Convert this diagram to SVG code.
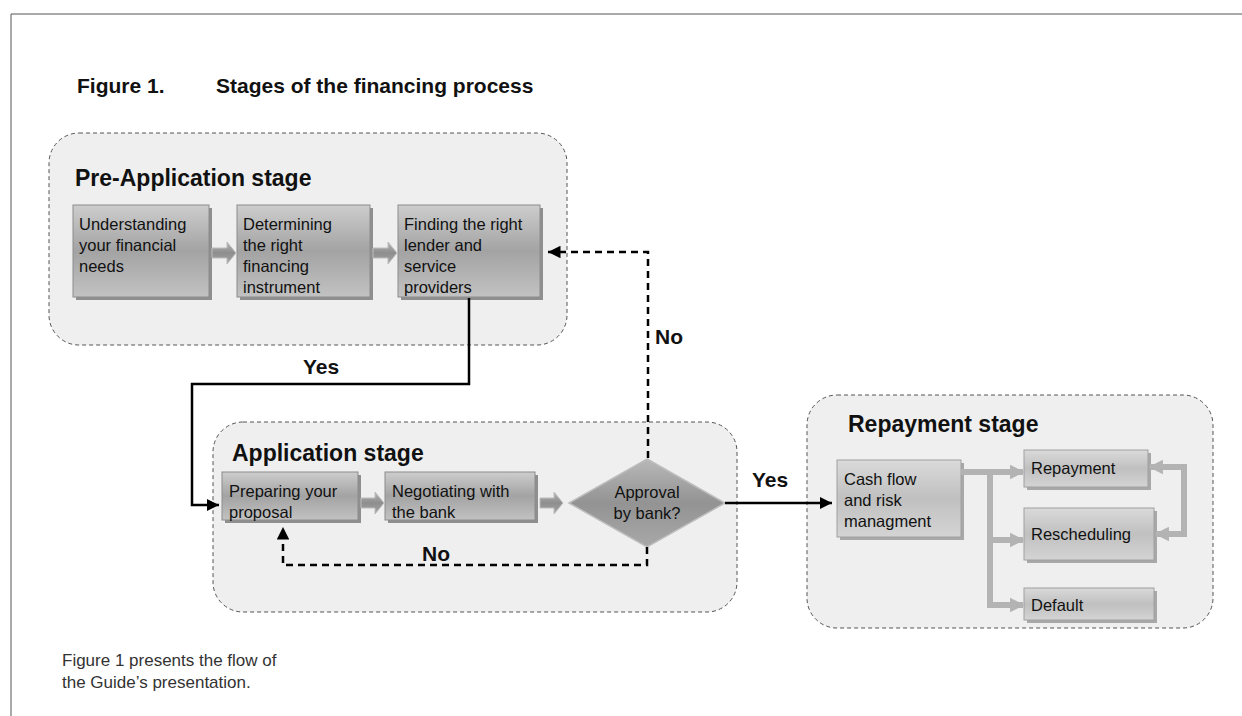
<svg xmlns="http://www.w3.org/2000/svg" width="1242" height="716" viewBox="0 0 1242 716">
<style>
text{font-family:"Liberation Sans",Arial,sans-serif;fill:#111}
.t{font-weight:bold;font-size:21px}
.h{font-weight:bold;font-size:23px}
.b{font-size:16.5px}
.l{font-weight:bold;font-size:21px}
.cap{font-size:17px;fill:#333}
.stage{fill:#efefef;stroke:#555;stroke-width:1;stroke-dasharray:4 3}
.box{fill:url(#gd);stroke:#8c8c8c;stroke-width:1}
.lbox{fill:url(#gl);stroke:#a0a0a0;stroke-width:1}
.sh{fill:#8f8f8f}
.lsh{fill:#a8a8a8}
.k{fill:none;stroke:#000;stroke-width:2.5}
.kd{fill:none;stroke:#000;stroke-width:2.5;stroke-dasharray:7 5}
.g{fill:none;stroke:#b3b3b3;stroke-width:6}
.blk{fill:url(#ga);stroke:#bdbdbd;stroke-width:1}
</style>
<defs>
<linearGradient id="gd" x1="0" y1="0" x2="0" y2="1">
<stop offset="0" stop-color="#cdcdcd"/><stop offset="0.5" stop-color="#a3a3a3"/><stop offset="1" stop-color="#c2c2c2"/>
</linearGradient>
<linearGradient id="gl" x1="0" y1="0" x2="0" y2="1">
<stop offset="0" stop-color="#dadada"/><stop offset="0.5" stop-color="#c0c0c0"/><stop offset="1" stop-color="#d4d4d4"/>
</linearGradient>
<linearGradient id="gdi" x1="0" y1="0" x2="0" y2="1">
<stop offset="0" stop-color="#b8b8b8"/><stop offset="0.5" stop-color="#939393"/><stop offset="1" stop-color="#a8a8a8"/>
</linearGradient>
<linearGradient id="ga" x1="0" y1="0" x2="0" y2="1">
<stop offset="0" stop-color="#b5b5b5"/><stop offset="0.5" stop-color="#8e8e8e"/><stop offset="1" stop-color="#a5a5a5"/>
</linearGradient>
<marker id="ah" viewBox="0 0 10 10" refX="10" refY="5" markerWidth="5" markerHeight="5" orient="auto" markerUnits="strokeWidth">
<path d="M0,0 L10,5 L0,10 z" fill="#000"/>
</marker>
<marker id="gh" viewBox="0 0 10 10" refX="9" refY="5" markerWidth="2.4" markerHeight="2.8" orient="auto-start-reverse" markerUnits="strokeWidth">
<path d="M0,0 L10,5 L0,10 z" fill="#b3b3b3"/>
</marker>
</defs>
<rect width="1242" height="716" fill="#fff"/>
<path d="M11 716 V14 H1242" fill="none" stroke="#555" stroke-width="1"/>
<g id="title">
<text class="t" x="77" y="93">Figure 1.</text>
<text class="t" x="216" y="93">Stages of the financing process</text>
</g>
<g id="pre-application-stage">
<rect class="stage" x="49" y="133" width="518" height="212" rx="30"/>
<text class="h" x="75" y="186">Pre-Application stage</text>
</g>
<g id="application-stage">
<rect class="stage" x="213" y="422" width="524" height="190" rx="30"/>
<text class="h" x="232" y="461">Application stage</text>
</g>
<g id="repayment-stage">
<rect class="stage" x="807" y="395" width="406" height="233" rx="30"/>
<text class="h" x="848" y="432">Repayment stage</text>
</g>
<g id="understanding">
<rect class="sh" x="76" y="208" width="136" height="92"/>
<rect class="box" x="73" y="205" width="136" height="92"/>
<text class="b" x="79" y="230">Understanding</text>
<text class="b" x="79" y="251">your financial</text>
<text class="b" x="79" y="272">needs</text>
</g>
<g id="determining">
<rect class="sh" x="240" y="208" width="133" height="92"/>
<rect class="box" x="237" y="205" width="133" height="92"/>
<text class="b" x="243" y="230">Determining</text>
<text class="b" x="243" y="251">the right</text>
<text class="b" x="243" y="272">financing</text>
<text class="b" x="243" y="293">instrument</text>
</g>
<g id="finding">
<rect class="sh" x="401" y="208" width="142" height="92"/>
<rect class="box" x="398" y="205" width="142" height="92"/>
<text class="b" x="404" y="230">Finding the right</text>
<text class="b" x="404" y="251">lender and</text>
<text class="b" x="404" y="272">service</text>
<text class="b" x="404" y="293">providers</text>
</g>
<g id="preparing">
<rect class="sh" x="225" y="475" width="136" height="48"/>
<rect class="box" x="222" y="472" width="136" height="48"/>
<text class="b" x="229" y="497">Preparing your</text>
<text class="b" x="229" y="518">proposal</text>
</g>
<g id="negotiating">
<rect class="sh" x="388" y="475" width="150" height="48"/>
<rect class="box" x="385" y="472" width="150" height="48"/>
<text class="b" x="392" y="497">Negotiating with</text>
<text class="b" x="392" y="518">the bank</text>
</g>
<g id="approval">
<polygon points="647,459 725,503 647,547 569,503" fill="url(#gdi)" stroke="#bcbcbc" stroke-width="1.5"/>
<text class="b" x="647" y="498" text-anchor="middle">Approval</text>
<text class="b" x="647" y="519" text-anchor="middle">by bank?</text>
</g>
<g id="cashflow">
<rect class="lsh" x="840" y="463" width="124" height="77"/>
<rect class="lbox" x="837" y="460" width="124" height="77"/>
<text class="b" x="844" y="485">Cash flow</text>
<text class="b" x="844" y="506">and risk</text>
<text class="b" x="844" y="527">managment</text>
</g>
<g id="repayment">
<rect class="lsh" x="1027" y="453" width="124" height="37"/>
<rect class="lbox" x="1024" y="450" width="124" height="37"/>
<text class="b" x="1031" y="474">Repayment</text>
</g>
<g id="rescheduling">
<rect class="lsh" x="1027" y="511" width="130" height="52"/>
<rect class="lbox" x="1024" y="508" width="130" height="52"/>
<text class="b" x="1031" y="540">Rescheduling</text>
</g>
<g id="default">
<rect class="lsh" x="1027" y="591" width="130" height="32"/>
<rect class="lbox" x="1024" y="588" width="130" height="32"/>
<text class="b" x="1031" y="611">Default</text>
</g>
<g id="connectors">
<path class="blk" d="M212 248 H227 V242 L236 253 L227 264 V258 H212 Z"/>
<path class="blk" d="M373 248 H388 V242 L397 253 L388 264 V258 H373 Z"/>
<path class="blk" d="M361 498 H375 V492 L384 503 L375 514 V508 H361 Z"/>
<path class="blk" d="M540 498 H554 V492 L563 503 L554 514 V508 H540 Z"/>
<path class="kd" d="M648 458 V252 H548" marker-end="url(#ah)"/>
<path class="k" d="M469 298 V384 H192 V505 H219" marker-end="url(#ah)"/>
<path class="kd" d="M647 547 V565 H283 V527" marker-end="url(#ah)"/>
<path class="k" d="M725 503 H832" marker-end="url(#ah)"/>
<path class="g" d="M961 472 H1023" marker-end="url(#gh)"/>
<path class="g" d="M990 472 V605 H1023" marker-end="url(#gh)"/>
<path class="g" d="M990 540 H1023" marker-end="url(#gh)"/>
<path class="g" d="M1156 534 H1184 V467 H1150" marker-start="url(#gh)" marker-end="url(#gh)"/>
<text class="l" x="655" y="344">No</text>
<text class="l" x="303" y="374">Yes</text>
<text class="l" x="422" y="561">No</text>
<text class="l" x="752" y="487">Yes</text>
</g>
<g id="caption">
<text class="cap" x="62" y="666">Figure 1 presents the flow of</text>
<text class="cap" x="62" y="688">the Guide’s presentation.</text>
</g>
</svg>
